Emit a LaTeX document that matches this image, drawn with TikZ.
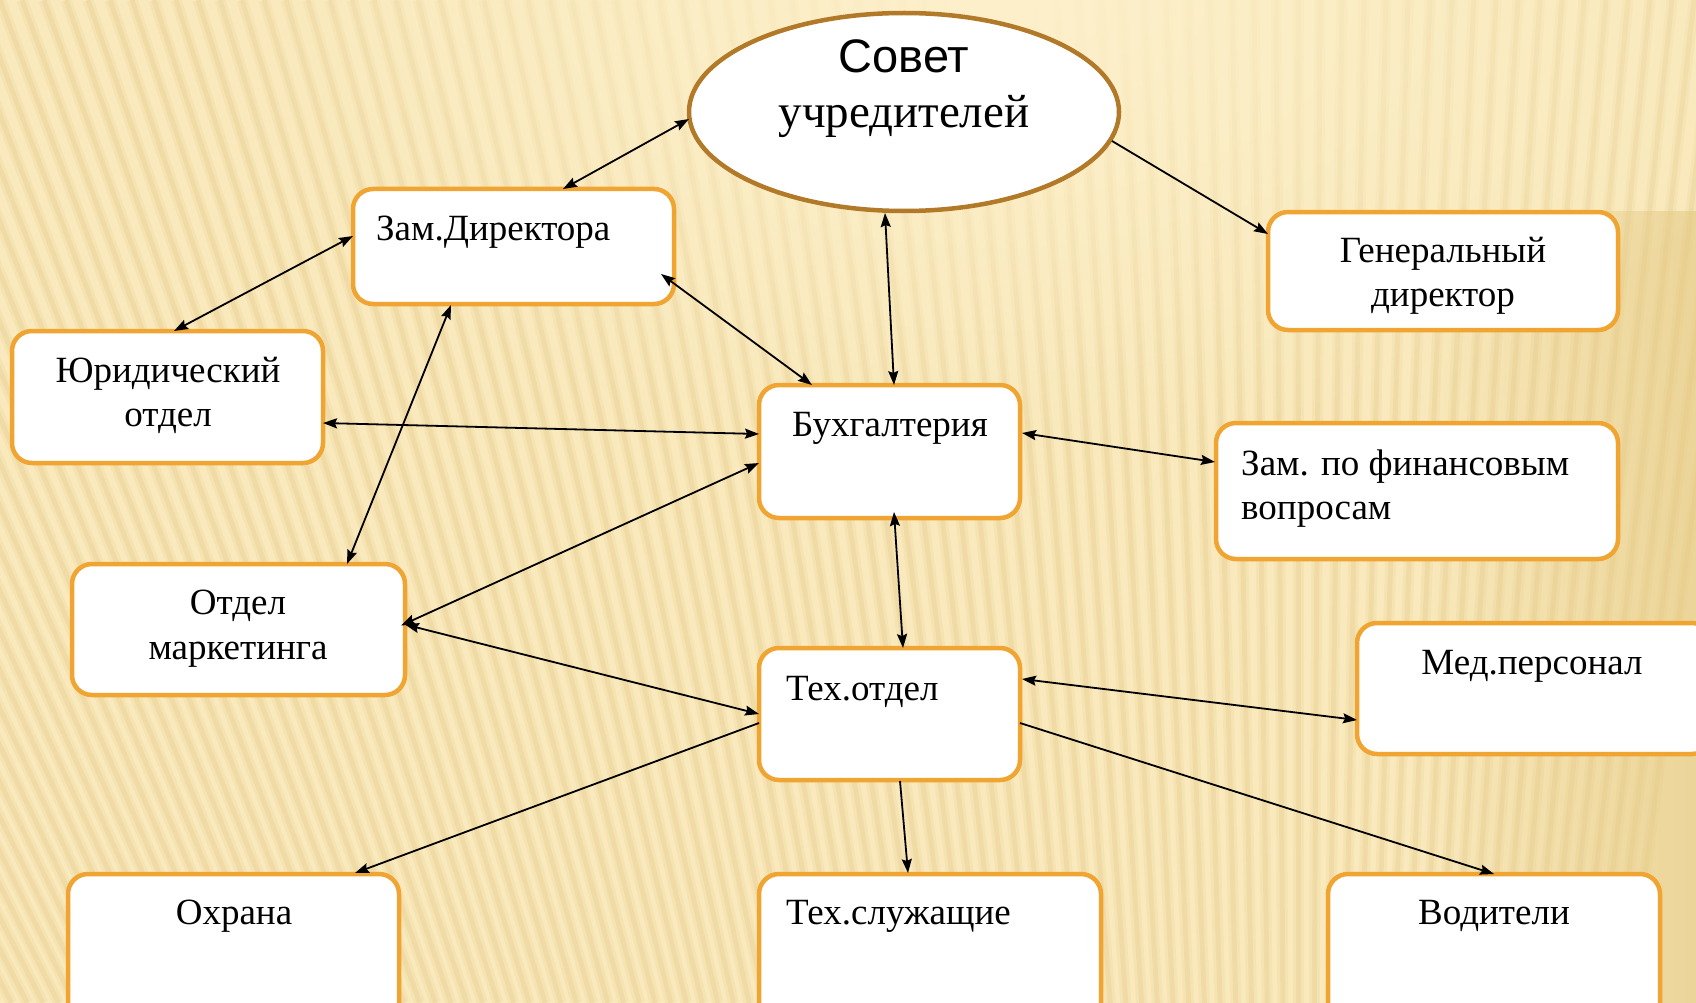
\documentclass[tikz,border=0pt]{standalone}
\usepackage{fontspec}
\setmainfont{Liberation Serif}
\newfontfamily\arialfont{Liberation Sans}
\usetikzlibrary{shapes.geometric,arrows.meta,fadings}
\definecolor{bgbase}{RGB}{249,233,188}
\definecolor{bgpale}{RGB}{253,240,203}
\definecolor{stripec}{RGB}{220,188,112}
\definecolor{tanshade}{RGB}{228,200,130}
\definecolor{boxor}{RGB}{240,165,50}
\definecolor{ellbr}{RGB}{178,122,40}
\tikzfading[name=radfade, inner color=transparent!0, outer color=transparent!100]
\tikzfading[name=fadeR, left color=transparent!100, right color=transparent!40]
\begin{document}
\begin{tikzpicture}[x=1pt,y=-1pt,
  box/.style={draw=boxor, line width=4.5pt, fill=white, rounded corners=20pt, inner sep=0pt, outer sep=0pt},
  ellbox/.style={ellipse, draw=ellbr, line width=4.5pt, fill=white, inner sep=0pt, outer sep=0pt},
  lbl/.style={inner sep=0pt, font=\fontsize{37}{44}\selectfont},
  con/.style={line width=1.8pt, black},
  both/.style={con, {Stealth[length=14pt,width=10pt,inset=2pt]}-{Stealth[length=14pt,width=10pt,inset=2pt]}},
  one/.style={con, -{Stealth[length=14pt,width=10pt,inset=2pt]}}]
\useasboundingbox (0,0) rectangle (1696,1003);
\clip (0,0) rectangle (1696,1003);
% background
\fill[bgbase] (0,0) rectangle (1696,1003);
\foreach \i in {-40,...,80} {
  \pgfmathsetmacro\xa{\i*22}
  \pgfmathsetmacro\xb{\xa+(1300-\xa)/3500*1003}
  \draw[stripec, line width=11pt, opacity=0.12] (\xa,0) -- (\xb,1003);
  \draw[stripec, line width=5pt, opacity=0.18] (\xa,0) -- (\xb,1003);
}
\fill[tanshade, path fading=fadeR] (1420,210) rectangle (1696,1003);
\fill[bgpale, path fading=radfade] (1000,0) ellipse (820 and 460);

% nodes
\node[ellbox, minimum width=430, minimum height=198] (ell) at (904,112) {};
\node[box, minimum width=321, minimum height=115] (zam) at (513.5,246.5) {};
\node[box, minimum width=350, minimum height=118] (gen) at (1443,271) {};
\node[box, minimum width=311, minimum height=132] (jur) at (167.5,397) {};
\node[box, minimum width=261, minimum height=133] (buh) at (889.5,451.5) {};
\node[box, minimum width=402, minimum height=136] (fin) at (1417,491) {};
\node[box, minimum width=333, minimum height=131] (mark) at (238.5,629.5) {};
\node[box, minimum width=261, minimum height=132] (teh) at (889.5,714) {};
\node[box, minimum width=355, minimum height=131] (med) at (1534.5,688.5) {};
\node[box, minimum width=331, minimum height=150] (ohr) at (233.5,949) {};
\node[box, minimum width=342, minimum height=150] (tsl) at (930,949) {};
\node[box, minimum width=332, minimum height=150] (vod) at (1494,949) {};

% texts
\node[inner sep=0pt, anchor=base, font=\arialfont\fontsize{47}{56}\selectfont] (ellA) at (904,73) {Совет};
\node[inner sep=0pt, anchor=base, font=\fontsize{47}{56}\selectfont] (ellB) at (904,128) {учредителей};
\node[lbl, anchor=base west] (zamT) at (376,240) {Зам.Директора};
\node[lbl, anchor=base] (genA) at (1443,262) {Генеральный};
\node[lbl, anchor=base] (genB) at (1443,306) {директор};
\node[lbl, anchor=base] (jurA) at (168,382) {Юридический};
\node[lbl, anchor=base] (jurB) at (168,426) {отдел};
\node[lbl, anchor=base west] (buhT) at (792,436) {Бухгалтерия};
\node[lbl, anchor=base west] (finA) at (1241,475) {Зам. по финансовым};
\node[lbl, anchor=base west] (finB) at (1241,519) {вопросам};
\node[lbl, anchor=base] (markA) at (238,614) {Отдел};
\node[lbl, anchor=base] (markB) at (238,659) {маркетинга};
\node[lbl, anchor=base west] (tehT) at (786,700) {Тех.отдел};
\node[lbl, anchor=base] (medT) at (1532,674) {Мед.персонал};
\node[lbl, anchor=base] (ohrT) at (234,924) {Охрана};
\node[lbl, anchor=base west] (tslT) at (786,924) {Тех.служащие};
\node[lbl, anchor=base] (vodT) at (1494,924) {Водители};

% connectors
\draw[both] ([shift={(0,7)}]ell.west) -- ([shift={(49.5,0)}]zam.north);
\draw[both] ([shift={(0,-10.5)}]zam.west) -- ([shift={(6.5,0)}]jur.north);
\draw[one] ([shift={(-7,29)}]ell.east) -- ([shift={(0,-37)}]gen.west);
\draw[both] ([shift={(-19,2)}]ell.south) -- ([shift={(4.5,0)}]buh.north);
\draw[both] ([shift={(-13,27.5)}]zam.east) -- ([shift={(-77.5,0)}]buh.north);
\draw[both] ([shift={(-62.5,1)}]zam.south) -- ([shift={(108.5,0)}]mark.north);
\draw[both] ([shift={(0,26)}]jur.east) -- ([shift={(0,-17.5)}]buh.west);
\draw[both] ([shift={(2,-18.5)}]buh.east) -- ([shift={(-1,-29)}]fin.west);
\draw[both] ([shift={(0,11.5)}]buh.west) -- ([shift={(-4,-4)}]mark.east);
\draw[both] ([shift={(0,-5)}]mark.east) -- ([shift={(0,0)}]teh.west);
\draw[both] ([shift={(4.5,-6)}]buh.south) -- ([shift={(13.5,0)}]teh.north);
\draw[both] ([shift={(2,-35)}]teh.east) -- ([shift={(0,31.5)}]med.west);
\draw[one] ([shift={(0,9)}]teh.west) -- ([shift={(121.5,-1)}]ohr.north);
\draw[one] ([shift={(10.5,1)}]teh.south) -- ([shift={(-22,-1)}]tsl.north);
\draw[one] ([shift={(0,9)}]teh.east) -- ([shift={(0,0)}]vod.north);
\end{tikzpicture}
\end{document}
